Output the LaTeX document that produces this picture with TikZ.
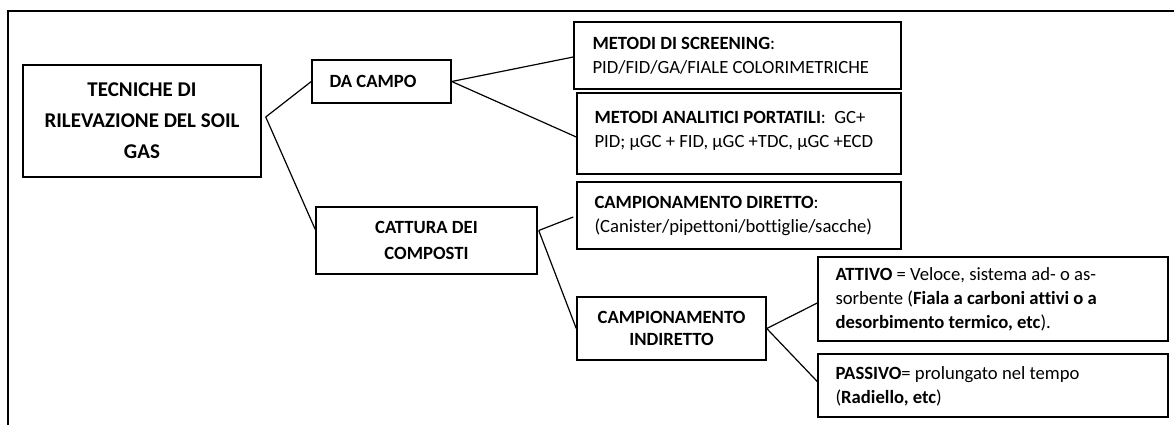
\documentclass[tikz,border=0pt]{standalone}
\usepackage{fontspec}
\setmainfont{Carlito}[Ligatures=CommonOff]
\usetikzlibrary{calc}
\begin{document}
\begin{tikzpicture}[x=0.75pt,y=-0.75pt,
  box/.style={draw,line width=1.1pt,inner sep=0pt,align=center,font=\fontsize{14}{18}\selectfont\bfseries},
  txt/.style={anchor=west,align=left,inner sep=0pt,font=\fontsize{14}{18}\selectfont},
  link/.style={line width=0.9pt}]
\useasboundingbox (0,0) rectangle (1174,425);
\draw[line width=1pt] (8,425) -- (8,11) -- (1174,11);
\node[box,minimum width=178.5pt,minimum height=84pt,font=\fontsize{15.75}{23.25}\selectfont\bfseries] (root) at (142,121) {TECNICHE DI\\RILEVAZIONE DEL SOIL\\GAS};
\node[box,minimum width=104.25pt,minimum height=32.25pt] (campo) at (381.5,81.5) {};
\node[txt,font=\fontsize{14}{18}\selectfont\bfseries] (campotxt) at ($(campo.west)+(18,0)$) {DA CAMPO};
\node[box,minimum width=165.75pt,minimum height=50.25pt,font=\fontsize{14}{20}\selectfont\bfseries] (cat) at (426.5,240.5) {CATTURA DEI\\COMPOSTI};
\node[box,minimum width=245.25pt,minimum height=50.25pt] (scr) at (737.5,55.5) {};
\node[txt] (scrtxt) at ($(scr.west)+(19,0)$) {\textbf{METODI DI SCREENING}:\\PID/FID/GA/FIALE COLORIMETRICHE};
\node[box,minimum width=243pt,minimum height=60.75pt] (ana) at (739,133.5) {};
\node[txt] (anatxt) at ($(ana.west)+(18,-3)$) {\textbf{METODI ANALITICI PORTATILI}:~~GC+\\PID; μGC + FID, μGC +TDC, μGC +ECD};
\node[box,minimum width=243pt,minimum height=50.25pt] (dir) at (739,215.5) {};
\node[txt] (dirtxt) at ($(dir.west)+(18,0)$) {\textbf{CAMPIONAMENTO DIRETTO}:\\(Canister/pipettoni/bottiglie/sacche)};
\node[box,minimum width=141.75pt,minimum height=47.25pt,font=\fontsize{14}{17}\selectfont\bfseries] (ind) at (671.5,328.5) {CAMPIONAMENTO\\INDIRETTO};
\node[box,minimum width=262.5pt,minimum height=63pt] (att) at (993,299) {};
\node[txt] (atttxt) at ($(att.west)+(18,0)$) {\textbf{ATTIVO} = Veloce, sistema ad- o as-\\sorbente (\textbf{Fiala a carboni attivi o a}\\\textbf{desorbimento termico, etc}).};
\node[box,minimum width=262.5pt,minimum height=47.25pt] (pas) at (993,385.5) {};
\node[txt] (pastxt) at ($(pas.west)+(18,1)$) {\textbf{PASSIVO}= prolungato nel tempo\\(\textbf{Radiello, etc})};
\coordinate (rootout) at ($(root.east)+(4,-4)$);
\coordinate (catout) at ($(cat.east)+(1,-10)$);
\draw[link] (rootout) -- (campo.west);
\draw[link] (rootout) -- ($(cat.west)+(0,-11)$);
\draw[link] (campo.east) -- ($(scr.west)+(0,1.5)$);
\draw[link] (campo.east) -- ($(ana.west)+(0,3.5)$);
\draw[link] (catout) -- ($(dir.west)+(-3,1.5)$);
\draw[link] (catout) -- (ind.west);
\draw[link] (ind.east) -- ($(att.west)+(0,4)$);
\draw[link] (ind.east) -- ($(pas.west)+(0,-4)$);
\end{tikzpicture}
\end{document}
